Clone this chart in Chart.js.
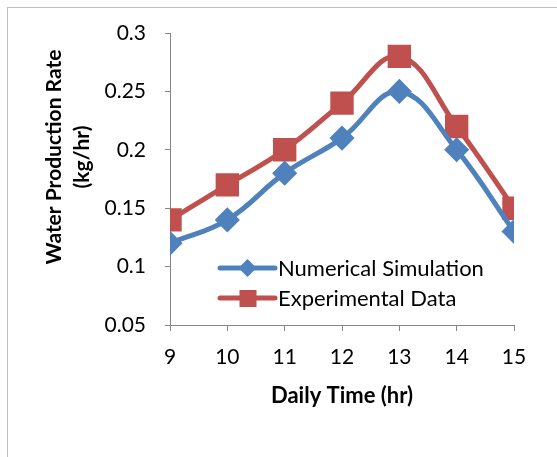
<!DOCTYPE html>
<html>
<head>
<meta charset="utf-8">
<script src="https://cdn.jsdelivr.net/npm/chart.js@4"></script>
<style>
  html, body { margin: 0; padding: 0; background: #fff; }
  #wrap { width: 557px; height: 457px; position: relative; }
</style>
</head>
<body>
<div id="wrap"><canvas id="chart"></canvas></div>
<script>
const hours = [9, 10, 11, 12, 13, 14, 15];
const numericalSim = [0.12, 0.14, 0.18, 0.21, 0.25, 0.20, 0.13];
const experimental = [0.14, 0.17, 0.20, 0.24, 0.28, 0.22, 0.15];
const yTitleLines = ['Water Production Rate', '(kg/hr)'];

const FONT = 'Lato, "Open Sans", sans-serif';
const AXIS_GRAY = '#868686';

// frame around the whole chart (cut off on the right and bottom like the picture)
const framePlugin = {
    id: 'frame',
    beforeDraw(chart) {
        const ctx = chart.ctx;
        ctx.save();
        ctx.strokeStyle = '#bfbfbf';
        ctx.lineWidth = 1;
        ctx.strokeRect(7.5, 7.5, 700, 700);
        ctx.restore();
    }
};

// y axis title, two rotated lines sitting a bit above the plot middle
const yTitlePlugin = {
    id: 'yTitle',
    afterDraw(chart) {
        const ctx = chart.ctx;
        ctx.save();
        ctx.fillStyle = '#000';
        ctx.font = 'bold 21px ' + FONT;
        ctx.textAlign = 'center';
        ctx.textBaseline = 'middle';
        const centers = [54, 82];
        yTitleLines.forEach((line, i) => {
            ctx.save();
            ctx.translate(centers[i], 157);
            ctx.rotate(-Math.PI / 2);
            ctx.fillText(line, 0, 0);
            ctx.restore();
        });
        ctx.restore();
    }
};

// legend sitting inside the plot area
const insideLegend = {
    id: 'insideLegend',
    afterDatasetsDraw(chart) {
        const ctx = chart.ctx;
        const items = chart.data.datasets;
        const x0 = 220, x1 = 275, startY = 268, rowH = 30;
        ctx.save();
        items.forEach((ds, i) => {
            const y = startY + i * rowH;
            ctx.strokeStyle = ds.borderColor;
            ctx.lineWidth = 5;
            ctx.lineCap = 'round';
            ctx.beginPath();
            ctx.moveTo(x0, y);
            ctx.lineTo(x1, y);
            ctx.stroke();
            ctx.fillStyle = ds.pointBackgroundColor;
            const cx = (x0 + x1) / 2;
            if (ds.pointStyle === 'rectRot') {
                const r = 9;
                ctx.beginPath();
                ctx.moveTo(cx, y - r);
                ctx.lineTo(cx + r, y);
                ctx.lineTo(cx, y + r);
                ctx.lineTo(cx - r, y);
                ctx.closePath();
                ctx.fill();
            } else {
                ctx.fillRect(cx - 8, y - 8, 17, 17);
            }
            ctx.fillStyle = '#000';
            ctx.font = '22px ' + FONT;
            ctx.textBaseline = 'middle';
            ctx.textAlign = 'left';
            ctx.fillText(ds.label, x1 + 3, y + 1);
        });
        ctx.restore();
    }
};

new Chart(document.getElementById('chart'), {
    type: 'line',
    data: {
        datasets: [
            {
                label: 'Numerical Simulation',
                data: hours.map((h, i) => ({ x: h, y: numericalSim[i] })),
                borderColor: '#4f81bd',
                backgroundColor: '#4f81bd',
                pointBackgroundColor: '#4f81bd',
                pointBorderColor: '#4f81bd',
                pointStyle: 'rectRot',
                pointRadius: 9,
                borderWidth: 5,
                tension: 0.4
            },
            {
                label: 'Experimental Data',
                data: hours.map((h, i) => ({ x: h, y: experimental[i] })),
                borderColor: '#c0504d',
                backgroundColor: '#c0504d',
                pointBackgroundColor: '#c0504d',
                pointBorderColor: '#c0504d',
                pointStyle: 'rect',
                pointRadius: 13,
                borderWidth: 5,
                tension: 0.4
            }
        ]
    },
    options: {
        responsive: true,
        maintainAspectRatio: false,
        animation: false,
        layout: { padding: { left: 35, right: 43, top: 33, bottom: 40 } },
        plugins: {
            legend: { display: false },
            tooltip: { enabled: false }
        },
        scales: {
            x: {
                type: 'linear',
                min: 9,
                max: 15,
                afterFit: s => { s.height = 92; },
                ticks: { stepSize: 1, color: '#000', font: { family: FONT, size: 21 }, padding: 14 },
                grid: { drawOnChartArea: false, drawTicks: true, tickLength: 6, color: AXIS_GRAY },
                border: { color: AXIS_GRAY, width: 1 },
                title: {
                    display: true,
                    text: 'Daily Time (hr)',
                    color: '#000',
                    font: { family: FONT, size: 22, weight: 'bold' },
                    padding: { top: 0, bottom: 8 }
                }
            },
            y: {
                min: 0.05,
                max: 0.3,
                afterFit: s => { s.width = 135; },
                ticks: {
                    stepSize: 0.05,
                    color: '#000',
                    font: { family: FONT, size: 21 },
                    padding: 19,
                    callback: v => String(Number(v.toFixed(2)))
                },
                grid: { drawOnChartArea: false, drawTicks: true, tickLength: 5, color: AXIS_GRAY },
                border: { color: AXIS_GRAY, width: 1 }
            }
        }
    },
    plugins: [framePlugin, yTitlePlugin, insideLegend]
});
</script>
</body>
</html>
